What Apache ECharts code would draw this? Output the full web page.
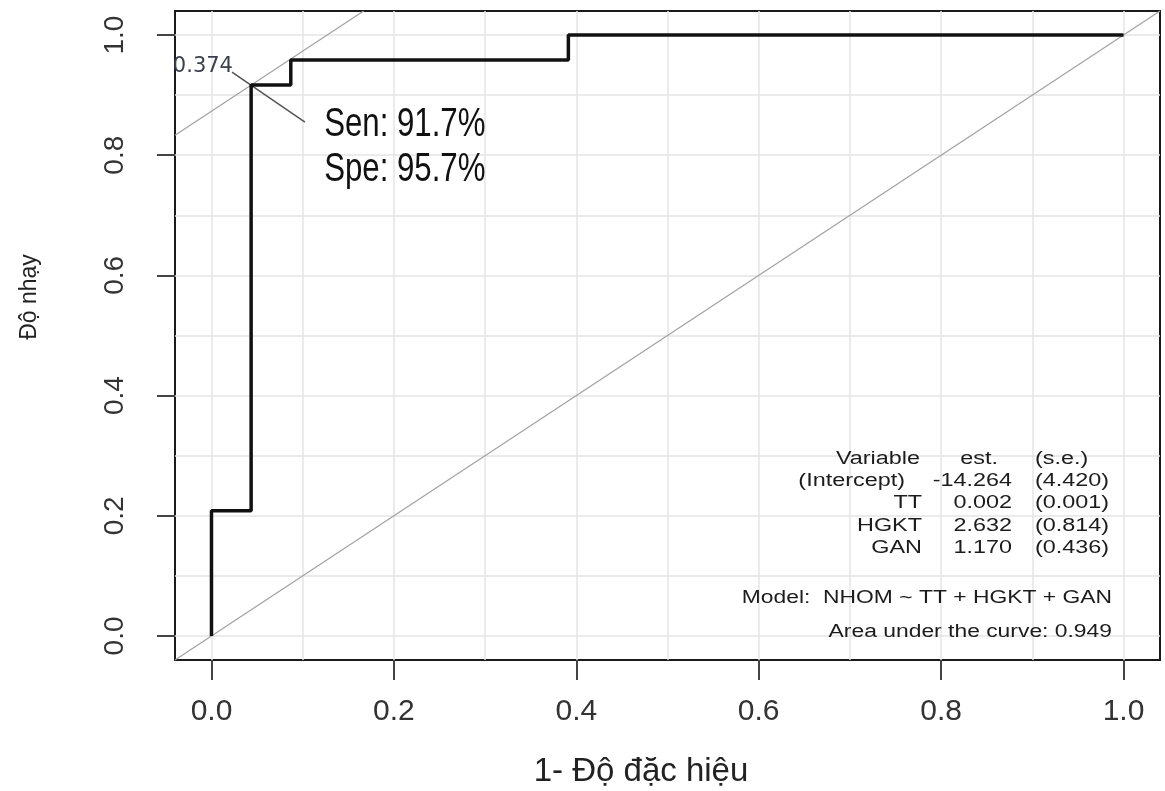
<!DOCTYPE html>
<html>
<head>
<meta charset="utf-8">
<script src="https://cdn.jsdelivr.net/npm/echarts@6/dist/echarts.min.js"></script>
<style>html,body{margin:0;padding:0;background:#fff;}#c{width:1165px;height:791px;}</style>
</head>
<body>
<div id="c"></div>
<script>
// ---- data ----
const fpr = [0, 0, 1/23, 1/23, 2/23, 2/23, 9/23, 9/23, 1];
const tpr = [0, 5/24, 5/24, 22/24, 22/24, 23/24, 23/24, 1, 1];
const bestIndex = 3;
const bestThreshold = '0.374';
const sensText = 'Sen: 91.7%';
const specText = 'Spe: 95.7%';
const xTicks = [0, 0.2, 0.4, 0.6, 0.8, 1.0];
const yTicks = [0, 0.2, 0.4, 0.6, 0.8, 1.0];
const gridValues = [0, 0.1, 0.2, 0.3, 0.4, 0.5, 0.6, 0.7, 0.8, 0.9, 1.0];
const tableVars = ['Variable', '(Intercept)', 'TT', 'HGKT', 'GAN'];
const tableEst = ['est.', '-14.264', '0.002', '2.632', '1.170'];
const tableSE = ['(s.e.)', '(4.420)', '(0.001)', '(0.814)', '(0.436)'];
const modelText = 'Model:  NHOM ~ TT + HGKT + GAN';
const aucValue = 0.949;
const xTitle = '1- Độ đặc hiệu';
const yTitle = 'Độ nhạy';

const axMin = -0.04, axMax = 1.04;
const FONT = "'Liberation Sans', Arial, sans-serif";

const rocData = fpr.map((x, i) => [x, tpr[i]]);
const best = rocData[bestIndex];
const icpt = best[1] - best[0];
const tangent = [[axMin, axMin + icpt], [axMax - icpt, axMax]];
const diagonal = [[axMin, axMin], [axMax, axMax]];
const leader = [[best[0] - 0.021, best[1] + 0.0216], [best[0] + 0.059, best[1] - 0.0616]];

const chart = echarts.init(document.getElementById('c'), null, {renderer: 'canvas'});

const gridMarks = gridValues.map(v => ({xAxis: v})).concat(gridValues.map(v => ({yAxis: v})));

const option = {
  animation: false,
  backgroundColor: '#fff',
  grid: {left: 175, right: 5, top: 11, bottom: 131, show: true, borderColor: '#1a1a1a', borderWidth: 2, backgroundColor: 'transparent'},
  xAxis: {
    type: 'value', min: axMin, max: axMax,
    axisLine: {show: false, onZero: false},
    splitLine: {show: false},
    axisTick: {show: true, customValues: xTicks, length: 20, lineStyle: {color: '#444', width: 2}},
    axisLabel: {customValues: xTicks, formatter: v => v.toFixed(1), fontSize: 30, fontFamily: FONT, color: '#333', margin: 37}
  },
  yAxis: {
    type: 'value', min: axMin, max: axMax,
    axisLine: {show: false, onZero: false},
    splitLine: {show: false},
    axisTick: {show: true, customValues: yTicks, length: 18, lineStyle: {color: '#444', width: 2}},
    axisLabel: {customValues: yTicks, formatter: v => v.toFixed(1), fontSize: 28, fontFamily: FONT, color: '#333', rotate: 90, margin: 46}
  },
  series: [
    {
      type: 'line', data: [], silent: true, z: 1,
      markLine: {silent: true, z: 1, symbol: ['none', 'none'], label: {show: false}, animation: false,
        lineStyle: {color: '#e4e4e4', width: 1.5, type: 'solid'}, data: gridMarks}
    },
    {type: 'line', data: diagonal, symbol: 'none', silent: true, z: 2, lineStyle: {color: '#a3a3a3', width: 1.3}},
    {type: 'line', data: tangent, symbol: 'none', silent: true, z: 2, lineStyle: {color: '#a3a3a3', width: 1.3}},
    {type: 'line', data: leader, symbol: 'none', silent: true, z: 3, clip: false, lineStyle: {color: '#555', width: 1.5}},
    {type: 'line', data: rocData, symbol: 'none', silent: true, z: 6, lineStyle: {color: '#111', width: 3.5}}
  ]
};
chart.setOption(option);

// ---- annotations ----
const g = [];
const bestPx = chart.convertToPixel({gridIndex: 0}, best);
const leaderPx = chart.convertToPixel({gridIndex: 0}, leader[0]);
g.push({type: 'text', x: leaderPx[0] + 1, y: leaderPx[1] - 6, z: 10,
  style: {text: bestThreshold, font: "21px 'DejaVu Sans', sans-serif", fill: '#3a3f4a', textAlign: 'right', textVerticalAlign: 'middle'}});
g.push({type: 'rect', shape: {x: 140, y: 50, width: 34, height: 30}, style: {fill: '#fff'}, z: 11});
g.push({type: 'text', x: bestPx[0] + 73, y: bestPx[1] + 40, scaleX: 0.78, z: 10,
  style: {text: sensText, font: "40px " + FONT, fill: '#111', textAlign: 'left', textVerticalAlign: 'middle'}});
g.push({type: 'text', x: bestPx[0] + 73, y: bestPx[1] + 85, scaleX: 0.78, z: 10,
  style: {text: specText, font: "40px " + FONT, fill: '#111', textAlign: 'left', textVerticalAlign: 'middle'}});

// table
const rowY = [459, 481, 503, 526, 548];
const varRight = [920, 905, 922, 922, 922];
const estRight = [998, 1012, 1012, 1012, 1012];
const tf = "18px " + FONT, sx = 1.3;
for (let i = 0; i < tableVars.length; i++) {
  g.push({type: 'text', x: varRight[i], y: rowY[i], scaleX: sx, z: 10, style: {text: tableVars[i], font: tf, fill: '#1c1c1c', textAlign: 'right', textVerticalAlign: 'middle'}});
  g.push({type: 'text', x: estRight[i], y: rowY[i], scaleX: sx, z: 10, style: {text: tableEst[i], font: tf, fill: '#1c1c1c', textAlign: 'right', textVerticalAlign: 'middle'}});
  g.push({type: 'text', x: 1035, y: rowY[i], scaleX: sx, z: 10, style: {text: tableSE[i], font: tf, fill: '#1c1c1c', textAlign: 'left', textVerticalAlign: 'middle'}});
}
g.push({type: 'text', x: 1112, y: 598, scaleX: 1.27, z: 10, style: {text: modelText, font: tf, fill: '#1c1c1c', textAlign: 'right', textVerticalAlign: 'middle'}});
g.push({type: 'text', x: 1112, y: 632, scaleX: 1.27, z: 10, style: {text: 'Area under the curve: ' + aucValue.toFixed(3), font: tf, fill: '#1c1c1c', textAlign: 'right', textVerticalAlign: 'middle'}});

// axis titles
g.push({type: 'text', x: 641, y: 772, z: 10, style: {text: xTitle, font: "33px " + FONT, fill: '#222', textAlign: 'center', textVerticalAlign: 'middle'}});
g.push({type: 'text', x: 30, y: 297, rotation: Math.PI / 2, z: 10, style: {text: yTitle, font: "23px " + FONT, fill: '#222', textAlign: 'center', textVerticalAlign: 'middle'}});

chart.setOption({graphic: {elements: g}});
</script>
</body>
</html>
